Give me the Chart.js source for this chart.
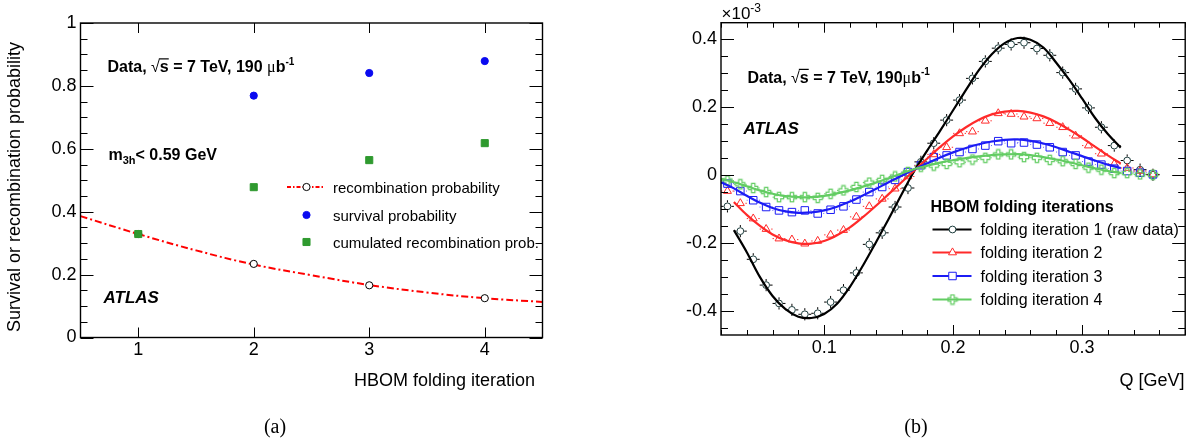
<!DOCTYPE html>
<html lang="en">
<head>
<meta charset="UTF-8">
<title>HBOM folding iterations</title>
<script src="https://cdn.jsdelivr.net/npm/chart.js"></script>
<style>
  body { margin: 0; background: #fff; width: 1199px; height: 443px; overflow: hidden; position: relative; }
  canvas { position: absolute; top: 0; }
  #chartA { left: 0; }
  #chartB { left: 600px; }
</style>
</head>
<body>
<canvas id="chartA" width="600" height="443"></canvas>
<canvas id="chartB" width="599" height="443"></canvas>
<script>
// ---------- panel (a) ----------
const iterTicks = [1, 2, 3, 4];
const probTicks = [0, 0.2, 0.4, 0.6, 0.8, 1];
const survivalIter = [2, 3, 4];
const survivalProb = [0.769, 0.841, 0.879];
const recombIter = [1, 2, 3, 4];
const recombProb = [0.329, 0.234, 0.166, 0.125];
const cumulIter = [1, 2, 3, 4];
const cumulProb = [0.329, 0.478, 0.564, 0.618];
const recombFitX = [0.5, 1, 1.5, 2, 2.5, 3, 3.5, 4, 4.5];
const recombFitY = [0.386, 0.329, 0.277, 0.232, 0.198, 0.167, 0.143, 0.125, 0.113];

// ---------- panel (b) ----------
const qTicks = [0.1, 0.2, 0.3];
const deltaTicks = [-0.4, -0.2, 0, 0.2, 0.4];
const qBins = [0.025, 0.035, 0.045, 0.055, 0.065, 0.075, 0.085, 0.095, 0.105, 0.115,
  0.125, 0.135, 0.145, 0.155, 0.165, 0.175, 0.185, 0.195, 0.205, 0.215,
  0.225, 0.235, 0.245, 0.255, 0.265, 0.275, 0.285, 0.295, 0.305, 0.315,
  0.325, 0.335, 0.345, 0.355];
const iter1 = [-0.093, -0.166, -0.249, -0.325, -0.379, -0.398, -0.411, -0.408, -0.375, -0.340,
  -0.289, -0.205, -0.171, -0.095, -0.039, 0.038, 0.093, 0.161, 0.220, 0.284,
  0.334, 0.373, 0.384, 0.389, 0.372, 0.352, 0.301, 0.253, 0.197, 0.140,
  0.086, 0.042, 0.015, 0.000];
const iter2 = [-0.048, -0.084, -0.129, -0.160, -0.188, -0.191, -0.203, -0.195, -0.177, -0.163,
  -0.124, -0.093, -0.071, -0.041, -0.005, 0.027, 0.060, 0.081, 0.122, 0.127,
  0.159, 0.181, 0.179, 0.171, 0.166, 0.152, 0.140, 0.115, 0.086, 0.062,
  0.032, 0.020, 0.011, 0.001];
const iter3 = [-0.026, -0.048, -0.075, -0.095, -0.105, -0.110, -0.105, -0.114, -0.103, -0.093,
  -0.073, -0.051, -0.036, -0.015, 0.008, 0.028, 0.052, 0.057, 0.067, 0.076,
  0.086, 0.099, 0.093, 0.095, 0.089, 0.081, 0.067, 0.057, 0.039, 0.030,
  0.018, 0.011, 0.006, 0.001];
const iter4 = [-0.017, -0.028, -0.039, -0.051, -0.066, -0.066, -0.066, -0.068, -0.056, -0.046,
  -0.036, -0.023, -0.015, -0.005, 0.008, 0.024, 0.027, 0.032, 0.037, 0.045,
  0.050, 0.060, 0.060, 0.052, 0.050, 0.044, 0.040, 0.032, 0.021, 0.015,
  0.005, 0.005, 0.001, 0.000];
// fitted curves
const qCurve = [0.02, 0.03, 0.04, 0.05, 0.06, 0.07, 0.08, 0.09, 0.10, 0.11, 0.12, 0.13, 0.14, 0.15, 0.16,
  0.17, 0.18, 0.19, 0.20, 0.21, 0.22, 0.23, 0.24, 0.25, 0.26, 0.27, 0.28, 0.29, 0.30, 0.31, 0.32, 0.33];
const fit1 = [null, -0.163, -0.228, -0.300, -0.357, -0.396, -0.418, -0.422, -0.410, -0.380, -0.330,
  -0.268, -0.200, -0.130, -0.058, 0.012, 0.072, 0.130, 0.190, 0.250, 0.308,
  0.355, 0.388, 0.403, 0.398, 0.375, 0.330, 0.280, 0.225, 0.168, 0.120, 0.080];
const fit2 = [null, -0.080, -0.118, -0.150, -0.176, -0.193, -0.202, -0.203, -0.195, -0.178, -0.155,
  -0.125, -0.092, -0.057, -0.022, 0.013, 0.048, 0.082, 0.113, 0.140, 0.162,
  0.178, 0.186, 0.188, 0.183, 0.172, 0.155, 0.133, 0.109, 0.083, 0.057, 0.033];
const fit3 = [-0.022, -0.040, -0.062, -0.082, -0.098, -0.108, -0.112, -0.111, -0.105, -0.094, -0.079,
  -0.061, -0.042, -0.022, -0.003, 0.016, 0.034, 0.051, 0.066, 0.079, 0.090,
  0.098, 0.103, 0.104, 0.100, 0.092, 0.081, 0.068, 0.055, 0.042, 0.030, 0.020];
const fit4 = [-0.012, -0.022, -0.034, -0.046, -0.056, -0.063, -0.066, -0.066, -0.062, -0.055, -0.046,
  -0.035, -0.023, -0.010, 0.004, 0.017, 0.027, 0.036, 0.043, 0.049, 0.054,
  0.058, 0.060, 0.061, 0.058, 0.052, 0.045, 0.037, 0.028, 0.019, 0.011, 0.005];
const binHalf = 0.005;      // horizontal error = half bin width
const rawErrY = 0.018;      // vertical error on raw data

const FONT = "'Liberation Sans', Arial, Helvetica, sans-serif";
const BLACK = '#000000', MARK1 = '#1d3d3d', RED = '#ff2a2a', BLUE = '#1c1cf5', GREEN = '#62cc62';

const pts = (xs, ys) => xs.map((x, i) => ({ x: x, y: ys[i] }));
const fmt = v => String(+(+v).toFixed(3));

// open cross marker (ROOT style 28)
function crossMarker(color) {
  const c = document.createElement('canvas');
  c.width = 12; c.height = 12;
  const g = c.getContext('2d');
  const m = 6, a = 1.7, L = 4.6;
  g.strokeStyle = color; g.lineWidth = 1.2;
  g.beginPath();
  g.moveTo(m - a, m - L); g.lineTo(m + a, m - L); g.lineTo(m + a, m - a); g.lineTo(m + L, m - a);
  g.lineTo(m + L, m + a); g.lineTo(m + a, m + a); g.lineTo(m + a, m + L); g.lineTo(m - a, m + L);
  g.lineTo(m - a, m + a); g.lineTo(m - L, m + a); g.lineTo(m - L, m - a); g.lineTo(m - a, m - a);
  g.closePath(); g.stroke();
  return c;
}
const greenCross = crossMarker(GREEN);

// multiples of step inside [min,max]
function steps(min, max, step) {
  const out = [];
  for (let k = Math.ceil(min / step - 1e-6); k * step <= max + 1e-9; k++) out.push(+(k * step).toFixed(6));
  return out;
}
const isMult = (v, s) => Math.abs(v / s - Math.round(v / s)) < 1e-6;

// ROOT-like frame with inward ticks on all four sides
function drawFrame(chart, spec) {
  const { ctx, chartArea: a, scales: { x, y } } = chart;
  ctx.save();
  ctx.strokeStyle = BLACK;
  ctx.lineWidth = 1;
  ctx.beginPath();
  const xs = spec.xMinor ? steps(x.min, x.max, spec.xMinor) : spec.xVals;
  xs.forEach(v => {
    const px = Math.round(x.getPixelForValue(v)) + 0.5;
    const len = isMult(v, spec.xMajor) ? spec.xMajorLen : spec.xMinorLen;
    ctx.moveTo(px, a.bottom); ctx.lineTo(px, a.bottom - len);
    ctx.moveTo(px, a.top); ctx.lineTo(px, a.top + len);
  });
  steps(y.min, y.max, spec.yMinor).forEach(v => {
    const py = Math.round(y.getPixelForValue(v)) + 0.5;
    const len = isMult(v, spec.yMajor) ? spec.yMajorLen : spec.yMinorLen;
    ctx.moveTo(a.left, py); ctx.lineTo(a.left + len, py);
    ctx.moveTo(a.right, py); ctx.lineTo(a.right - len, py);
  });
  ctx.stroke();
  ctx.lineWidth = 1.4;
  ctx.strokeRect(a.left, a.top, a.right - a.left, a.bottom - a.top);
  ctx.restore();
}

// draws a run of text pieces left to right
function rich(ctx, x, y, parts) {
  parts.forEach(p => {
    ctx.font = p.font;
    const w = ctx.measureText(p.t).width;
    ctx.fillText(p.t, x, y + (p.dy || 0));
    if (p.over) {
      ctx.save();
      ctx.lineWidth = 1.2;
      ctx.beginPath();
      ctx.moveTo(x - 1, y - p.over); ctx.lineTo(x + w, y - p.over);
      ctx.stroke();
      ctx.restore();
    }
    x += w + (p.gap || 0);
  });
  return x;
}

function energyLine(ctx, x, y, size, muGap) {
  const b = 'bold ' + size + 'px ' + FONT;
  rich(ctx, x, y, [
    { t: 'Data, ', font: b },
    { t: '\u221A', font: size + 'px ' + FONT },
    { t: 's', font: b, over: size * 0.82 },
    { t: ' = 7 TeV, 190' + muGap, font: b },
    { t: '\u03BC', font: size + "px 'Liberation Serif', serif" },
    { t: 'b', font: b },
    { t: '-1', font: 'bold ' + Math.round(size * 0.65) + 'px ' + FONT, dy: -size * 0.45 }
  ]);
}

function marker(ctx, style, x, y, r, color, fill) {
  ctx.save();
  ctx.strokeStyle = color; ctx.fillStyle = fill || 'rgba(0,0,0,0)'; ctx.lineWidth = 1;
  ctx.beginPath();
  if (style === 'circle') ctx.arc(x, y, r, 0, Math.PI * 2);
  else if (style === 'rect') ctx.rect(x - r * 0.707, y - r * 0.707, r * 1.414, r * 1.414);
  else if (style === 'triangle') {
    ctx.moveTo(x, y - r); ctx.lineTo(x + r * 0.866, y + r * 0.5); ctx.lineTo(x - r * 0.866, y + r * 0.5); ctx.closePath();
  } else if (style instanceof HTMLCanvasElement) {
    ctx.drawImage(style, x - style.width / 2, y - style.height / 2);
    ctx.restore();
    return;
  }
  if (fill) ctx.fill();
  ctx.stroke();
  ctx.restore();
}

const tickFont = { family: FONT, size: 18 };

// ================= chart (a) =================
new Chart(document.getElementById('chartA'), {
  type: 'scatter',
  data: {
    datasets: [
      { label: 'cumulated recombination prob.', data: pts(cumulIter, cumulProb), pointStyle: 'rect',
        pointRadius: 5, backgroundColor: '#2f9a2f', borderColor: '#2f9a2f', order: 0 },
      { label: 'survival probability', data: pts(survivalIter, survivalProb), pointStyle: 'circle',
        pointRadius: 3.6, backgroundColor: '#0a0af0', borderColor: '#0a0af0', order: 1 },
      { label: 'recombination probability', data: pts(recombIter, recombProb), pointStyle: 'circle',
        pointRadius: 3.6, backgroundColor: '#ffffff', borderColor: BLACK, borderWidth: 1, order: 2 },
      { label: 'fit', data: pts(recombFitX, recombFitY), showLine: true, pointRadius: 0,
        borderColor: '#ff0000', borderWidth: 2, borderDash: [7, 3, 2, 3], tension: 0.4, order: 3 }
    ]
  },
  options: {
    responsive: false, maintainAspectRatio: false, animation: false, devicePixelRatio: 1, events: [],
    layout: { padding: { left: 0, top: 23, right: 57.5, bottom: 0 } },
    plugins: { legend: { display: false }, tooltip: { enabled: false } },
    scales: {
      x: {
        type: 'linear', min: 0.5, max: 4.5,
        grid: { display: false, drawTicks: false }, border: { display: false },
        ticks: { font: tickFont, color: BLACK, padding: 2, callback: fmt, maxRotation: 0 },
        afterBuildTicks: s => { s.ticks = iterTicks.map(v => ({ value: v })); },
        afterFit: s => { s.height = 443 - 337.5; }
      },
      y: {
        type: 'linear', min: 0, max: 1,
        grid: { display: false, drawTicks: false }, border: { display: false },
        ticks: { font: tickFont, color: BLACK, padding: 4, callback: fmt },
        afterBuildTicks: s => { s.ticks = probTicks.map(v => ({ value: v })); },
        afterFit: s => { s.width = 80.5; }
      }
    }
  },
  plugins: [{
    id: 'decorA',
    afterDraw(chart) {
      drawFrame(chart, { xVals: iterTicks, xMajor: 1, xMajorLen: 10, yMinor: 0.05, yMajor: 0.2, yMajorLen: 13, yMinorLen: 7 });
      const ctx = chart.ctx;
      ctx.save();
      ctx.fillStyle = BLACK; ctx.strokeStyle = BLACK;
      ctx.textBaseline = 'alphabetic'; ctx.textAlign = 'left';
      energyLine(ctx, 107.5, 72, 16, ' ');
      rich(ctx, 108.5, 160, [
        { t: 'm', font: 'bold 16px ' + FONT },
        { t: '3h', font: 'bold 11px ' + FONT, dy: 4 },
        { t: '< 0.59 GeV', font: 'bold 16px ' + FONT }
      ]);
      ctx.font = 'italic bold 17px ' + FONT;
      ctx.fillText('ATLAS', 103.5, 303);

      // legend
      const rowsA = [187, 215, 242];
      ctx.save();
      ctx.strokeStyle = '#ff0000'; ctx.lineWidth = 2; ctx.setLineDash([4, 2, 1.5, 2]);
      ctx.beginPath(); ctx.moveTo(287, rowsA[0]); ctx.lineTo(325, rowsA[0]); ctx.stroke();
      ctx.restore();
      marker(ctx, 'circle', 306.5, rowsA[0], 3.6, BLACK, '#ffffff');
      marker(ctx, 'circle', 306.5, rowsA[1], 3.6, '#0a0af0', '#0a0af0');
      marker(ctx, 'rect', 306.5, rowsA[2], 5, '#2f9a2f', '#2f9a2f');
      ctx.font = '15px ' + FONT;
      ctx.fillText('recombination probability', 333, rowsA[0] + 5.5);
      ctx.fillText('survival probability', 333, rowsA[1] + 5.5);
      ctx.fillText('cumulated recombination prob.', 333, rowsA[2] + 5.5);

      // axis titles
      ctx.font = '18px ' + FONT;
      ctx.textAlign = 'right';
      ctx.fillText('HBOM folding iteration', 535, 386);
      ctx.save();
      ctx.translate(20, 187); ctx.rotate(-Math.PI / 2);
      ctx.textAlign = 'center';
      ctx.fillText('Survival or recombination probability', 0, 0);
      ctx.restore();

      ctx.textAlign = 'center';
      ctx.font = "20px 'Liberation Serif', 'Times New Roman', serif";
      ctx.fillText('(a)', 275, 433);
      ctx.restore();
    }
  }]
});

// ================= chart (b) =================
const curve = (ys, color, order) => ({
  data: pts(qCurve, ys), showLine: true, pointRadius: 0, borderColor: color, borderWidth: 2.2,
  tension: 0.35, spanGaps: false, order: order
});
const marks = (ys, style, r, color, order, errY) => ({
  data: pts(qBins, ys), showLine: false, pointStyle: style, pointRadius: r,
  borderColor: color, backgroundColor: 'rgba(0,0,0,0)', borderWidth: 1, order: order,
  errColor: color, errY: errY
});

new Chart(document.getElementById('chartB'), {
  type: 'scatter',
  data: {
    datasets: [
      curve(fit4, GREEN, 0), curve(fit3, BLUE, 1), curve(fit2, RED, 2), curve(fit1, BLACK, 3),
      marks(iter4, greenCross, 4.6, GREEN, 4, 0),
      marks(iter3, 'rect', 5.3, BLUE, 5, 0),
      marks(iter2, 'triangle', 4.6, RED, 6, 0),
      marks(iter1, 'circle', 3.4, MARK1, 7, rawErrY)
    ]
  },
  options: {
    responsive: false, maintainAspectRatio: false, animation: false, devicePixelRatio: 1, events: [],
    layout: { padding: { left: 0, top: 22.7, right: 13.8, bottom: 0 } },
    plugins: { legend: { display: false }, tooltip: { enabled: false } },
    scales: {
      x: {
        type: 'linear', min: 0.02, max: 0.38,
        grid: { display: false, drawTicks: false }, border: { display: false },
        ticks: { font: tickFont, color: BLACK, padding: 2, callback: fmt, maxRotation: 0 },
        afterBuildTicks: s => { s.ticks = qTicks.map(v => ({ value: v })); },
        afterFit: s => { s.height = 443 - 335; }
      },
      y: {
        type: 'linear', min: -0.472, max: 0.448,
        grid: { display: false, drawTicks: false }, border: { display: false },
        ticks: { font: tickFont, color: BLACK, padding: 4, callback: fmt },
        afterBuildTicks: s => { s.ticks = deltaTicks.map(v => ({ value: v })); },
        afterFit: s => { s.width = 121; }
      }
    }
  },
  plugins: [{
    id: 'errorBars',
    beforeDatasetsDraw(chart) {
      const { ctx, scales: { x, y } } = chart;
      ctx.save();
      ctx.lineWidth = 1;
      chart.data.datasets.forEach((ds, i) => {
        if (ds.errColor === undefined) return;
        const meta = chart.getDatasetMeta(i);
        const gap = ds.pointRadius + 0.5;
        ctx.strokeStyle = ds.errColor === MARK1 ? BLACK : ds.errColor;
        ctx.beginPath();
        ds.data.forEach((p, j) => {
          const el = meta.data[j];
          const hx = x.getPixelForValue(p.x + binHalf) - el.x;
          if (hx > gap) {
            ctx.moveTo(el.x - hx, el.y); ctx.lineTo(el.x - gap, el.y);
            ctx.moveTo(el.x + gap, el.y); ctx.lineTo(el.x + hx, el.y);
          }
          if (ds.errY) {
            const hy = el.y - y.getPixelForValue(p.y + ds.errY);
            if (hy > gap) {
              ctx.moveTo(el.x, el.y - hy); ctx.lineTo(el.x, el.y - gap);
              ctx.moveTo(el.x, el.y + gap); ctx.lineTo(el.x, el.y + hy);
            }
          }
        });
        ctx.stroke();
      });
      ctx.restore();
    },
    afterDraw(chart) {
      drawFrame(chart, { xMinor: 0.02, xMajor: 0.1, xMajorLen: 10, xMinorLen: 5, yMinor: 0.05, yMajor: 0.2, yMajorLen: 13, yMinorLen: 7 });
      const ctx = chart.ctx;
      ctx.save();
      ctx.fillStyle = BLACK; ctx.strokeStyle = BLACK;
      ctx.textBaseline = 'alphabetic'; ctx.textAlign = 'left';
      energyLine(ctx, 147.5, 82.5, 16, '');
      ctx.font = 'italic bold 17px ' + FONT;
      ctx.fillText('ATLAS', 143.5, 133.5);

      // legend
      ctx.font = 'bold 16px ' + FONT;
      ctx.fillText('HBOM folding iterations', 330.5, 211.5);
      const entries = [
        ['folding iteration 1 (raw data)', BLACK, 'circle', 3.4, MARK1],
        ['folding iteration 2', RED, 'triangle', 4.6, RED],
        ['folding iteration 3', BLUE, 'rect', 5.3, BLUE],
        ['folding iteration 4', GREEN, greenCross, 4.6, GREEN]
      ];
      const rowsB = [229.5, 252.5, 276, 299.5];
      entries.forEach((e, i) => {
        const yy = rowsB[i];
        ctx.save();
        ctx.strokeStyle = e[1]; ctx.lineWidth = 2.2;
        ctx.beginPath(); ctx.moveTo(332.5, yy); ctx.lineTo(371.5, yy); ctx.stroke();
        ctx.restore();
        marker(ctx, e[2], 352.5, yy, e[3], e[4], '#ffffff');
        ctx.font = '16px ' + FONT;
        ctx.fillText(e[0], 380.5, yy + 5.7);
      });

      // axis titles
      ctx.font = '18px ' + FONT;
      ctx.textAlign = 'right';
      ctx.fillText('Q [GeV]', 584.5, 386);
      ctx.textAlign = 'left';
      rich(ctx, 121.5, 18.5, [
        { t: '\u00D710', font: '17px ' + FONT },
        { t: '-3', font: '12px ' + FONT, dy: -7 }
      ]);
      ctx.save();
      ctx.translate(661, 92); ctx.rotate(-Math.PI / 2);
      rich(ctx, 0, 0, [
        { t: '\u0394', font: '18px ' + FONT },
        { t: '3h', font: '12px ' + FONT, dy: 4 },
        { t: '(Q)', font: '18px ' + FONT }
      ]);
      ctx.restore();

      ctx.textAlign = 'center';
      ctx.font = "20px 'Liberation Serif', 'Times New Roman', serif";
      ctx.fillText('(b)', 316, 433);
      ctx.restore();
    }
  }]
});
</script>
</body>
</html>
